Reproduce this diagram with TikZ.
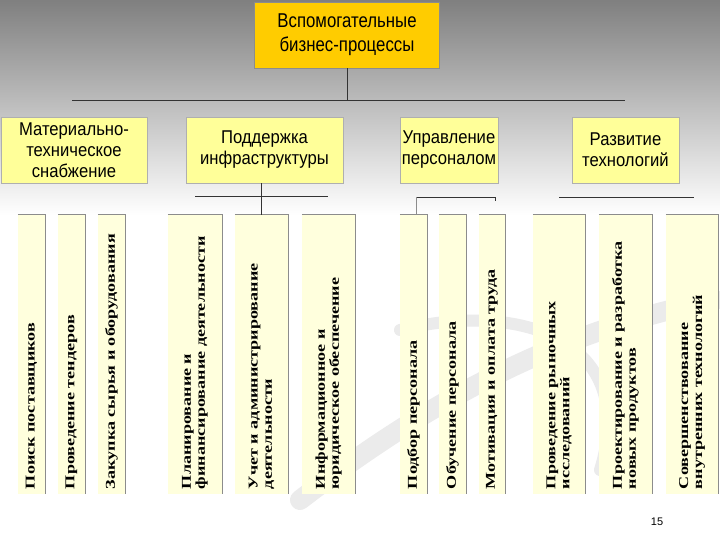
\documentclass[tikz,border=0pt]{standalone}
\usepackage{fontspec}
\setmainfont{Liberation Sans}
\newfontfamily\topfont[FakeStretch=0.84]{Liberation Sans}
\newfontfamily\groupfont[FakeStretch=0.9]{Liberation Sans}
\newfontfamily\colfont[FakeStretch=1.34]{Liberation Serif}
\usepackage{tikz}
\usetikzlibrary{
    positioning,
    backgrounds,
    calc
}
\definecolor{topfill}{HTML}{FFCC00}
\definecolor{groupfill}{HTML}{FFFF99}
\definecolor{colfill}{HTML}{FFFFDD}
\definecolor{edgegray}{HTML}{8C8C8C}
\definecolor{swoosh}{HTML}{EBEBEB}
\tikzset{
    top box/.style={
        rectangle, draw=edgegray, fill=topfill,
        minimum width=185pt, minimum height=66pt,
        align=center, inner sep=0pt,
        font=\topfont\fontsize{20}{24}\selectfont
    },
    group box/.style={
        rectangle, draw=edgegray!70, fill=groupfill,
        minimum height=66pt, align=center, inner sep=0pt,
        font=\groupfont\fontsize{18.5}{21}\selectfont
    },
    proc col/.style={
        rectangle, fill=colfill, minimum height=279pt,
        inner sep=0pt
    },
    proc text/.style={
        rotate=90, anchor=west, align=left, inner xsep=5pt, inner ysep=0pt,
        font=\colfont\bfseries\fontsize{13.5}{14}\selectfont
    },
    col edge/.style={draw=edgegray, line width=0.8pt},
    link/.style={draw=black!80, line width=0.7pt},
}

\begin{document}
\begin{tikzpicture}[x=1pt, y=-1pt]

    % ── Background ──
    \useasboundingbox (0,0) rectangle (720,540);
    \fill[white] (0,0) rectangle (720,540);
    \shade[top color=black!50, bottom color=white] (0,0) rectangle (720,215);
    \draw[swoosh, line width=20pt, line cap=round]
        (300,500) .. controls (430,400) and (560,330) .. (715,300);
    \draw[swoosh, line width=12pt, line cap=round]
        (400,330) .. controls (520,300) and (640,340) .. (600,470);

    % ── Top ──
    \node[top box] (bp) at (347,35) {Вспомогательные\\бизнес-процессы};

    % ── Groups ──
    \node[group box, minimum width=146pt] (mts) at (74,150) {Материально-\\техническое\\снабжение};
    \node[group box, minimum width=157pt] (infra) at (264.5,150) {Поддержка\\инфраструктуры};
    \node[group box, minimum width=98pt] (staff) at (449,150) {Управление\\персоналом};
    \node[group box, minimum width=107pt] (tech) at (625.5,150) {Развитие\\технологий};

    \coordinate (hl) at (72,100);
    \coordinate (hr) at (625,100);
    \draw[link] (bp.south) -- (bp.south |- hl);
    \draw[link] (hl) -- (hr);

    % ── Processes ──
    \foreach \name/\cx/\w in {c1/31.5/27, c2/71.5/27, c3/111.5/27,
                              c4/195/54, c5/261.5/53, c6/328.5/53,
                              c7/413.5/27, c8/452.5/27, c9/492/26,
                              c10/559/52, c11/625.5/53, c12/692/52}
        \node[proc col, minimum width=\w pt] (\name) at (\cx,354.5) {};
    \foreach \name in {c1,c2,c3,c4,c5,c6,c7,c8,c9,c10,c11,c12}
        \draw[col edge] (\name.north west) -- (\name.north east) -- (\name.south east);

    \node[proc text] at (c1.south) {Поиск поставщиков};
    \node[proc text] at (c2.south) {Проведение тендеров};
    \node[proc text] at (c3.south) {Закупка сырья и оборудования};
    \node[proc text] at (c4.south) {Планирование и\\финансирование деятельности};
    \node[proc text] at (c5.south) {Учет и администрирование\\деятельности};
    \node[proc text] at (c6.south) {Информационное и\\юридическое обеспечение};
    \node[proc text] at (c7.south) {Подбор персонала};
    \node[proc text] at (c8.south) {Обучение персонала};
    \node[proc text] at (c9.south) {Мотивация и оплата труда};
    \node[proc text] at (c10.south) {Проведение рыночных\\исследований};
    \node[proc text] at (c11.south) {Проектирование и разработка\\новых продуктов};
    \node[proc text] at (c12.south) {Совершенствование\\внутренних технологий};

    % infrastructure
    \coordinate (il) at (195,196);
    \coordinate (ir) at (328,196);
    \draw[link] (il) -- (ir);
    \draw[link] (c5.north |- infra.south) -- (c5.north);

    % staff
    \coordinate (sl) at (416,197);
    \coordinate (sr) at (495,197);
    \draw[link] (sl) -- (sr) -- ++(0,4);
    \draw[draw=edgegray, line width=0.7pt] (sl) -- (sl |- c7.north);

    % technology
    \coordinate (tl) at (559,197);
    \coordinate (tr) at (694,197);
    \draw[link] (tl) -- (tr);

    \node[font=\fontsize{11}{13}\selectfont] (pagenum) at (657,522) {15};

\end{tikzpicture}
\end{document}
